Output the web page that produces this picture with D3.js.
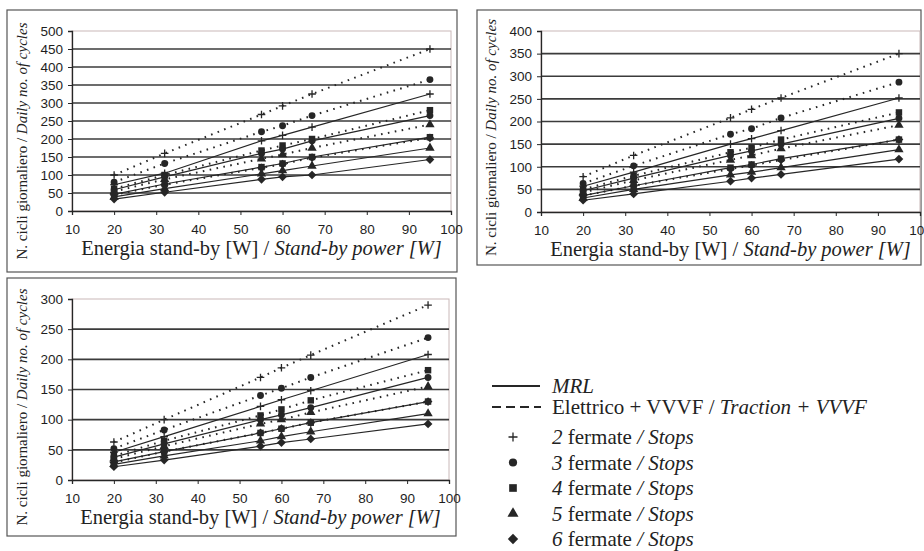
<!DOCTYPE html>
<html>
<head>
<meta charset="utf-8">
<script src="https://cdn.jsdelivr.net/npm/d3@7"></script>
<style>
  body { margin: 0; background: #fff; }
  svg { display: block; }
  .serif { font-family: 'Liberation Serif', 'Times New Roman', serif; }
  .sans { font-family: 'Liberation Sans', Arial, sans-serif; }
</style>
</head>
<body>
<svg id="chart" width="924" height="551"></svg>
<script>
// stand-by power on the x axis
const powerW = [20, 32, 55, 60, 67, 95];
const stopCounts = ["2", "3", "4", "5", "6"];
const symbolNames = ["plus", "circle", "square", "triangle", "diamond"];

// panel 1 (top left) - dotted = Elettrico + VVVF, solid = MRL
const p1Vvvf = [
  [100, 160, 268, 292, 325, 450],
  [80, 132, 220, 237, 265, 365],
  [62, 100, 168, 182, 200, 280],
  [54, 88, 145, 157, 175, 240],
  [45, 73, 120, 130, 148, 203]
];
const p1Mrl = [
  [73, 105, 195, 210, 233, 325],
  [59, 95, 160, 172, 195, 265],
  [46, 75, 122, 132, 150, 205],
  [39, 62, 103, 112, 125, 175],
  [33, 52, 88, 95, 100, 143]
];

// panel 2 (top right)
const p2Vvvf = [
  [78, 125, 208, 227, 252, 350],
  [63, 102, 172, 184, 208, 287],
  [50, 80, 132, 142, 160, 220],
  [43, 70, 115, 125, 140, 192],
  [36, 58, 95, 103, 115, 160]
];
const p2Mrl = [
  [57, 88, 150, 162, 180, 252],
  [47, 75, 125, 135, 150, 207],
  [36, 58, 98, 105, 118, 160],
  [31, 50, 82, 88, 98, 138],
  [26, 40, 68, 75, 83, 117]
];

// panel 3 (bottom left)
const p3Vvvf = [
  [63, 100, 170, 186, 207, 290],
  [52, 83, 140, 152, 170, 236],
  [40, 65, 107, 117, 132, 182],
  [35, 56, 93, 100, 112, 155],
  [29, 47, 78, 85, 95, 130]
];
const p3Mrl = [
  [46, 72, 122, 133, 148, 208],
  [38, 60, 100, 108, 120, 170],
  [30, 47, 78, 85, 95, 130],
  [26, 40, 65, 72, 80, 110],
  [22, 33, 56, 62, 68, 93]
];

const yMaxes = [500, 400, 300];
const xTicks = [10, 20, 30, 40, 50, 60, 70, 80, 90, 100];

const svg = d3.select("#chart");
const ink = "#262626";

// marker drawer
function marker(g, name, cx, cy, s) {
  if (name === "plus") {
    g.append("path")
      .attr("d", `M${cx - s},${cy}H${cx + s}M${cx},${cy - s}V${cy + s}`)
      .attr("stroke", ink).attr("stroke-width", 1.3).attr("fill", "none");
    return;
  }
  if (name === "diamond") {
    const r = s * 1.15;
    g.append("path")
      .attr("d", `M${cx},${cy - r}L${cx + r},${cy}L${cx},${cy + r}L${cx - r},${cy}Z`)
      .attr("fill", ink);
    return;
  }
  const types = { circle: d3.symbolCircle, square: d3.symbolSquare, triangle: d3.symbolTriangle };
  const area = { circle: s * s * 2.6, square: s * s * 2.9, triangle: s * s * 2.6 }[name];
  g.append("path")
    .attr("d", d3.symbol().type(types[name]).size(area)())
    .attr("transform", `translate(${cx},${cy})`)
    .attr("fill", ink);
}

function drawPanel(frame, plot, yMax, vvvf, mrl) {
  const g = svg.append("g");

  g.append("rect")
    .attr("x", frame.x).attr("y", frame.y)
    .attr("width", frame.w).attr("height", frame.h)
    .attr("fill", "none").attr("stroke", "#555").attr("stroke-width", 1.2);

  const x = d3.scaleLinear().domain([10, 100]).range([plot.x0, plot.x1]);
  const y = d3.scaleLinear().domain([0, yMax]).range([plot.y1, plot.y0]);

  // plot area border
  g.append("rect")
    .attr("x", plot.x0).attr("y", plot.y0)
    .attr("width", plot.x1 - plot.x0).attr("height", plot.y1 - plot.y0)
    .attr("fill", "none").attr("stroke", "#c9b8b8").attr("stroke-width", 1);

  // gridlines
  const gridVals = d3.range(50, yMax, 50);
  g.selectAll(".grid")
    .data(gridVals)
    .join("line")
      .attr("x1", plot.x0).attr("x2", plot.x1)
      .attr("y1", d => y(d)).attr("y2", d => y(d))
      .attr("stroke", "#3b3b3b").attr("stroke-width", 1.6);

  // axes
  const yAxis = g.append("g")
    .attr("transform", `translate(${plot.x0},0)`)
    .call(d3.axisLeft(y).tickValues(d3.range(0, yMax + 1, 50)).tickSize(4).tickPadding(5));
  const xAxis = g.append("g")
    .attr("transform", `translate(0,${plot.y1})`)
    .call(d3.axisBottom(x).tickValues(xTicks).tickSize(4).tickPadding(9));
  [yAxis, xAxis].forEach(a => {
    a.attr("font-family", null).attr("font-size", null);
    a.selectAll("text").attr("class", "sans").style("font-size", "13.5px").attr("fill", "#1e1e1e");
    a.selectAll("line").attr("stroke", ink);
    a.select(".domain").attr("stroke", ink).attr("stroke-width", 1.3);
  });

  // series lines
  const line = d3.line().x((d, i) => x(powerW[i])).y(d => y(d));
  vvvf.forEach(vals => {
    g.append("path").attr("d", line(vals))
      .attr("fill", "none").attr("stroke", ink)
      .attr("stroke-width", 2).attr("stroke-dasharray", "1.6,5.4");
  });
  mrl.forEach(vals => {
    g.append("path").attr("d", line(vals))
      .attr("fill", "none").attr("stroke", ink).attr("stroke-width", 1.2);
  });

  // markers
  [vvvf, mrl].forEach(group => {
    group.forEach((vals, k) => {
      vals.forEach((v, i) => marker(g, symbolNames[k], x(powerW[i]), y(v), 3.8));
    });
  });

  // axis titles
  const xt = g.append("text")
    .attr("class", "serif")
    .attr("x", (plot.x0 + plot.x1) / 2).attr("y", plot.y1 + 44)
    .attr("text-anchor", "middle")
    .style("font-size", "20.5px").attr("fill", "#222");
  xt.append("tspan").text("Energia stand-by [W] / ");
  xt.append("tspan").attr("font-style", "italic").text("Stand-by power [W]");

  const cx = plot.x0 - 45, cy = frame.y + frame.h / 2;
  const yt = g.append("text")
    .attr("class", "serif")
    .attr("transform", `translate(${cx},${cy}) rotate(-90)`)
    .attr("text-anchor", "middle")
    .style("font-size", "15px").attr("fill", "#222");
  yt.append("tspan").text("N. cicli giornaliero / ");
  yt.append("tspan").attr("font-style", "italic").text("Daily no. of cycles");
}

drawPanel({ x: 7, y: 10, w: 450, h: 262 }, { x0: 72, x1: 451, y0: 31, y1: 211 }, yMaxes[0], p1Vvvf, p1Mrl);
drawPanel({ x: 477, y: 10, w: 444, h: 255 }, { x0: 541, x1: 920, y0: 31, y1: 212 }, yMaxes[1], p2Vvvf, p2Mrl);
drawPanel({ x: 7, y: 278, w: 449, h: 258 }, { x0: 72, x1: 449, y0: 299, y1: 480 }, yMaxes[2], p3Vvvf, p3Mrl);

// legend
const leg = svg.append("g")
  .attr("class", "serif")
  .style("font-size", "21px").attr("fill", "#222");

leg.append("line").attr("x1", 492).attr("x2", 540).attr("y1", 386).attr("y2", 386)
  .attr("stroke", ink).attr("stroke-width", 2);
leg.append("text").attr("x", 552).attr("y", 393).attr("font-style", "italic").text("MRL");

leg.append("line").attr("x1", 492).attr("x2", 541).attr("y1", 407).attr("y2", 407)
  .attr("stroke", ink).attr("stroke-width", 2).attr("stroke-dasharray", "9,5");
const t2 = leg.append("text").attr("x", 552).attr("y", 414);
t2.append("tspan").text("Elettrico + VVVF / ");
t2.append("tspan").attr("font-style", "italic").text("Traction + VVVF");

stopCounts.forEach((s, i) => {
  const yy = 437 + i * 25.5;
  marker(leg, symbolNames[i], 513, yy, 4.5);
  const t = leg.append("text").attr("x", 552).attr("y", yy + 7);
  t.append("tspan").attr("font-style", "italic").text(s);
  t.append("tspan").text(" fermate ");
  t.append("tspan").attr("font-style", "italic").text("/ Stops");
});
</script>
</body>
</html>
